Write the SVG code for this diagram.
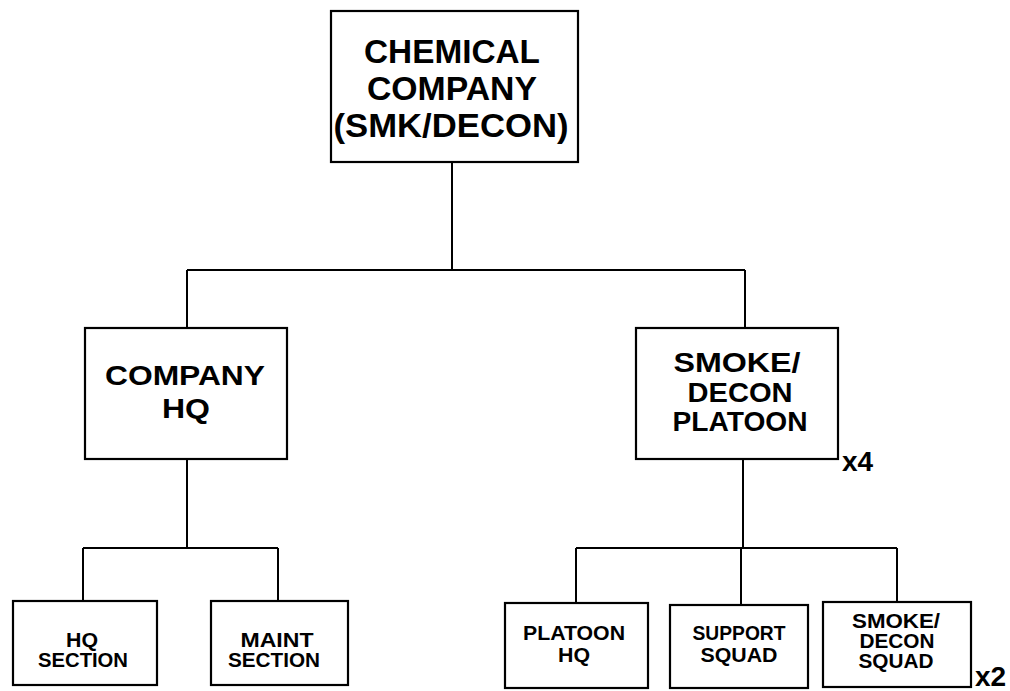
<svg xmlns="http://www.w3.org/2000/svg" width="1010" height="691" viewBox="0 0 1010 691">
<style>
.box{fill:#fff;stroke:#000;stroke-width:2.2}
.ln{fill:none;stroke:#000;stroke-width:2}
text{font-family:"Liberation Sans",Arial,sans-serif;font-weight:bold;fill:#000;text-anchor:middle}
.t1{font-size:34px}
.t2{font-size:27px}
.t3{font-size:20px}
.mul{font-size:28px;text-anchor:start}
</style>
<rect width="1010" height="691" fill="#fff"/>
<g id="connectors">
<path class="ln" d="M452 162V270M187 270H745M187 270V328M745 270V328"/>
<path class="ln" d="M187 459V548M83 548H278M83 548V601M278 548V601"/>
<path class="ln" d="M743 459V548M576 548H897M576 548V603M741 548V605M897 548V602"/>
</g>
<g id="chem-co">
<rect class="box" x="331" y="11" width="247" height="151"/>
<text class="t1" x="452" y="63" textLength="176" lengthAdjust="spacingAndGlyphs">CHEMICAL</text>
<text class="t1" x="452" y="100" textLength="170" lengthAdjust="spacingAndGlyphs">COMPANY</text>
<text class="t1" x="451" y="137" textLength="235" lengthAdjust="spacingAndGlyphs">(SMK/DECON)</text>
</g>
<g id="co-hq">
<rect class="box" x="85" y="328" width="202" height="131"/>
<text class="t2" x="185" y="385" textLength="160" lengthAdjust="spacingAndGlyphs">COMPANY</text>
<text class="t2" x="186" y="418" textLength="48" lengthAdjust="spacingAndGlyphs">HQ</text>
</g>
<g id="plt">
<rect class="box" x="636" y="328" width="202" height="131"/>
<text class="t2" x="737" y="372" textLength="127" lengthAdjust="spacingAndGlyphs">SMOKE/</text>
<text class="t2" x="740" y="402" textLength="105" lengthAdjust="spacingAndGlyphs">DECON</text>
<text class="t2" x="740" y="431" textLength="135" lengthAdjust="spacingAndGlyphs">PLATOON</text>
<text class="mul" x="842" y="471">x4</text>
</g>
<g id="hq-sec">
<rect class="box" x="13" y="601" width="144" height="84"/>
<text class="t3" x="82" y="647" textLength="32" lengthAdjust="spacingAndGlyphs">HQ</text>
<text class="t3" x="83" y="667" textLength="90" lengthAdjust="spacingAndGlyphs">SECTION</text>
</g>
<g id="maint-sec">
<rect class="box" x="211" y="601" width="137" height="84"/>
<text class="t3" x="277" y="647" textLength="73" lengthAdjust="spacingAndGlyphs">MAINT</text>
<text class="t3" x="274" y="667" textLength="92" lengthAdjust="spacingAndGlyphs">SECTION</text>
</g>
<g id="plt-hq">
<rect class="box" x="505" y="603" width="143" height="85"/>
<text class="t3" x="574" y="640" textLength="102" lengthAdjust="spacingAndGlyphs">PLATOON</text>
<text class="t3" x="574" y="662" textLength="32" lengthAdjust="spacingAndGlyphs">HQ</text>
</g>
<g id="sup-sqd">
<rect class="box" x="670" y="605" width="138" height="83"/>
<text class="t3" x="739" y="640" textLength="93" lengthAdjust="spacingAndGlyphs">SUPPORT</text>
<text class="t3" x="739" y="662" textLength="77" lengthAdjust="spacingAndGlyphs">SQUAD</text>
</g>
<g id="smk-sqd">
<rect class="box" x="823" y="602" width="148" height="85"/>
<text class="t3" x="896" y="628" textLength="88" lengthAdjust="spacingAndGlyphs">SMOKE/</text>
<text class="t3" x="897" y="648" textLength="75" lengthAdjust="spacingAndGlyphs">DECON</text>
<text class="t3" x="896" y="668" textLength="75" lengthAdjust="spacingAndGlyphs">SQUAD</text>
<text class="mul" x="975" y="686">x2</text>
</g>
</svg>
